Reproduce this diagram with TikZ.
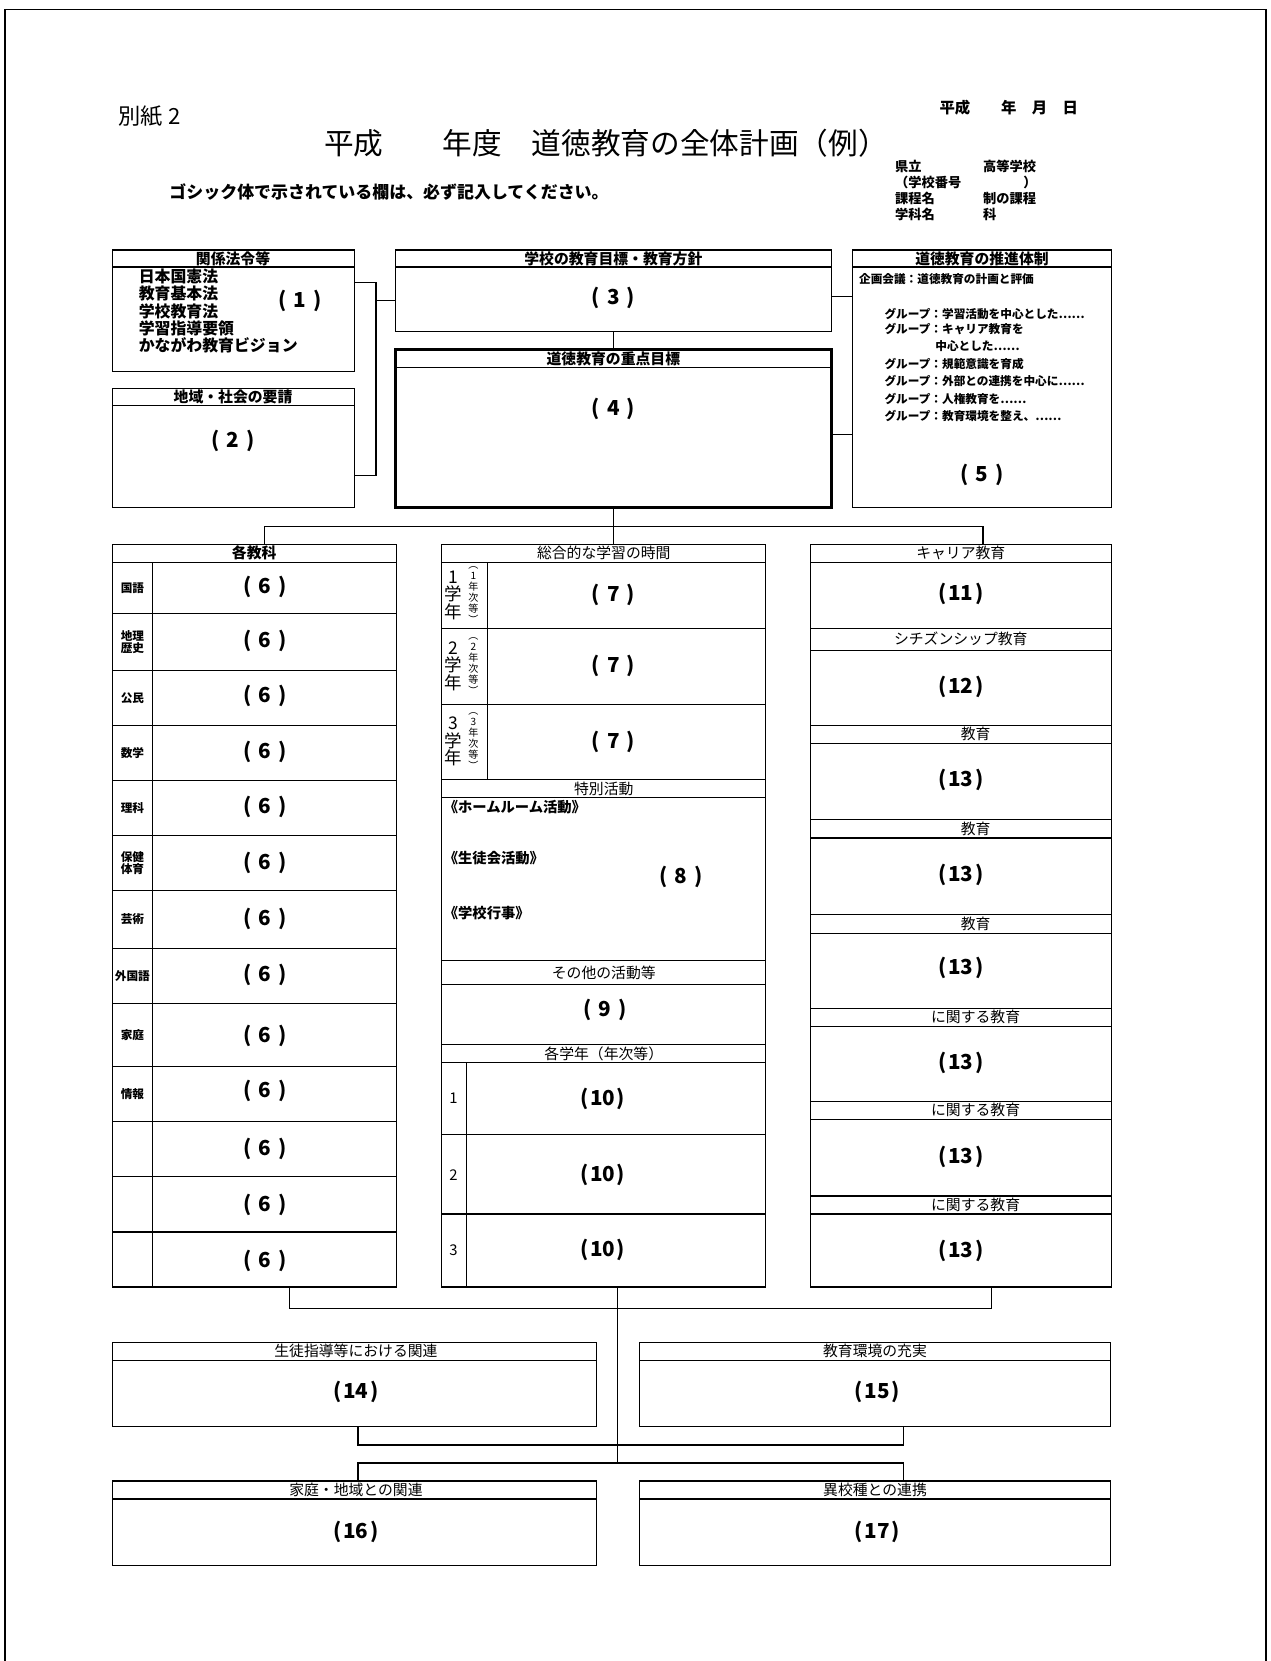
\documentclass[tikz,border=0pt]{standalone}
\usepackage{fontspec}
\setmainfont{Noto Sans CJK JP}
\newcommand\wnum[1]{(\hspace{0.35em}#1\hspace{0.35em})}
\newcommand\tnum[1]{(\hspace{0.08em}#1\hspace{0.08em})}
\begin{document}
\begin{tikzpicture}[x=1pt,y=-1pt,
  ln/.style={line width=1.1pt},
  box/.style={draw,line width=1.1pt,inner sep=0pt,outer sep=0pt,anchor=north west},
  txt/.style={inner sep=0pt,outer sep=0pt},
  hb/.style={txt,font=\fontsize{14}{15}\selectfont\bfseries},
  hr/.style={txt,font=\fontsize{14}{15}\selectfont},
  num/.style={txt,font=\fontsize{19.5}{20}\selectfont\bfseries},
  lab/.style={txt,align=center,font=\fontsize{11}{11.5}\selectfont\bfseries},
  grp/.style={txt,anchor=west,font=\fontsize{11}{12}\selectfont\bfseries},
  small/.style={txt,anchor=west,font=\fontsize{12.5}{13}\selectfont\bfseries},
]
\useasboundingbox (0,0) rectangle (1199,1568);
\draw[line width=1.6pt] (5,1580) -- (5,9) -- (1195,9) -- (1195,1580);

% ---- top texts
\node[txt,anchor=west,font=\fontsize{21}{22}\selectfont] (bessi) at (112,110) {別紙 2};
\node[txt,font=\fontsize{28}{29}\selectfont] (title) at (572,135) {平成　　年度　道徳教育の全体計画（例）};
\node[small,font=\fontsize{14.5}{15}\selectfont\bfseries] (date) at (887,102) {平成　　年　月　日};
\node[txt,anchor=west,font=\fontsize{16}{17}\selectfont\bfseries] (note) at (160,181) {ゴシック体で示されている欄は、必ず記入してください。};
\node[small] (sc1) at (845,157) {県立};
\node[small] (sc2) at (928,157) {高等学校};
\node[small] (sc3) at (845,172) {（学校番号};
\node[small] (sc4) at (966,172) {）};
\node[small] (sc5) at (845,187) {課程名};
\node[small] (sc6) at (928,187) {制の課程};
\node[small] (sc7) at (845,202) {学科名};
\node[small] (sc8) at (928,202) {科};

% ---- upper boxes
\node[box,minimum width=229pt,minimum height=115pt] (b1) at (106,236) {};
\node[box,minimum width=229pt,minimum height=112pt] (b2) at (106,367) {};
\node[box,minimum width=412pt,minimum height=77pt] (b3) at (373,236) {};
\node[box,line width=2.6pt,minimum width=412pt,minimum height=149pt] (b4) at (373,330) {};
\node[box,minimum width=244pt,minimum height=243pt] (b5) at (805,236) {};
\draw[ln] (106,252) -- (335,252);
\draw[ln] (106,383) -- (335,383);
\draw[ln] (373,252) -- (785,252);
\draw[ln] (373,347) -- (785,347);
\draw[ln] (805,252) -- (1049,252);

\node[hb] (h1) at (220,244) {関係法令等};
\foreach \s/\y [count=\i] in {日本国憲法/261,教育基本法/277,学校教育法/294,学習指導要領/310,かながわ教育ビジョン/326}
  \node[txt,anchor=west,font=\fontsize{15}{16}\selectfont\bfseries] (law\i) at (131,\y) {\s};
\node[num] (n1) at (283,284) {\wnum{1}};
\node[hb] (h2) at (220,375) {地域・社会の要請};
\node[num] (n2) at (220,416) {\wnum{2}};
\node[hb] (h3) at (579,244) {学校の教育目標・教育方針};
\node[num] (n3) at (579,281) {\wnum{3}};
\node[hb] (h4) at (579,339) {道徳教育の重点目標};
\node[num] (n4) at (579,386) {\wnum{4}};
\node[hb] (h5) at (927,244) {道徳教育の推進体制};
\node[grp] (g0) at (811,263) {企画会議：道徳教育の計画と評価};
\node[grp] (g1) at (835,296) {グループ：学習活動を中心とした……};
\node[grp] (g2) at (835,311) {グループ：キャリア教育を};
\node[grp] (g3) at (883,327) {中心とした……};
\node[grp] (g4) at (835,344) {グループ：規範意識を育成};
\node[grp] (g5) at (835,360) {グループ：外部との連携を中心に……};
\node[grp] (g6) at (835,377) {グループ：人権教育を……};
\node[grp] (g7) at (835,393) {グループ：教育環境を整え、……};
\node[num] (n5) at (927,448) {\wnum{5}};

% ---- upper connectors
\coordinate (j1) at (355,267);
\coordinate (j2) at (355,449);
\coordinate (j3) at (355,284);
\draw[ln] (b1.east |- j1) -- (j1) -- (j2) -- (b2.east |- j2);
\draw[ln] (j3) -- (b3.west |- j3);
\coordinate (j4) at (795,280);
\coordinate (j5) at (795,410);
\draw[ln] (b3.east |- j4) -- (b5.west |- j4);
\draw[ln] (b4.east |- j5) -- (b5.west |- j5);
\draw[ln] (b3.south) -- (b4.north);

% ---- columns
\node[box,minimum width=268pt,minimum height=701pt] (c1) at (106,514) {};
\node[box,minimum width=306pt,minimum height=701pt] (c2) at (417,514) {};
\node[box,minimum width=284pt,minimum height=701pt] (c3) at (765,514) {};

\coordinate (k1) at (250,497);
\coordinate (k2) at (579,497);
\coordinate (k3) at (928,497);
\draw[ln] (b4.south) -- (k2);
\draw[ln] (k1) -- (k3);
\draw[ln] (k1) -- (k1 |- c1.north);
\draw[ln] (k2) -- (k2 |- c2.north);
\draw[ln] (k3) -- (k3 |- c3.north);

% left column
\foreach \y in {531,579,633,685,737,789,841,895,947,1007,1059,1111,1163}
  \draw[ln] (106,\y) -- (374,\y);
\draw[ln] (144,531) -- (144,1215);
\node[hb] (hc1) at (240,522) {各教科};
\foreach \s/\y [count=\i] in {国語/555,地理\\歴史/606,公民/659,数学/711,理科/763,保健\\体育/815,芸術/868,外国語/921,家庭/977,情報/1033}
  \node[lab] (sub\i) at (125,\y) {\s};
\foreach \y [count=\i] in {554,605,657,710,762,815,867,920,978,1030,1085,1137,1190}
  \node[num] (six\i) at (250,\y) {\wnum{6}};

% middle column
\foreach \y in {531,593,665,736,753,907,929,986,1003,1071,1146}
  \draw[ln] (417,\y) -- (723,\y);
\draw[ln] (460,531) -- (460,736);
\draw[ln] (440,1003) -- (440,1215);
\node[hr] (hc2) at (570,522) {総合的な学習の時間};
\foreach \k/\y in {1/562,2/629,3/700}{
  \node[txt,align=center,font=\fontsize{16.5}{16.5}\selectfont] (yr\k) at (428,\y) {\k\\学\\年};
  \node[txt,align=center,font=\fontsize{9.5}{10.4}\selectfont] (yrs\k) at (447,\y) {︵\\\k\\年\\次\\等\\︶};
  \node[num] (sev\k) at (579,\y) {\wnum{7}};
}
\node[hr] (hsp) at (570,745) {特別活動};
\node[txt,anchor=west,font=\fontsize{13.5}{14}\selectfont\bfseries] (sp1) at (419,762) {《ホームルーム活動》};
\node[txt,anchor=west,font=\fontsize{13.5}{14}\selectfont\bfseries] (sp2) at (419,810) {《生徒会活動》};
\node[txt,anchor=west,font=\fontsize{13.5}{14}\selectfont\bfseries] (sp3) at (419,862) {《学校行事》};
\node[num] (n8) at (643,828) {\wnum{8}};
\node[hr] (hot) at (570,918) {その他の活動等};
\node[num] (n9) at (571,953) {\wnum{9}};
\node[hr] (hgr) at (570,995) {各学年（年次等）};
\foreach \k/\y in {1/1037,2/1109,3/1180}{
  \node[txt,font=\fontsize{14}{15}\selectfont] (gl\k) at (428,\y) {\k};
  \node[num] (ten\k) at (569,\y) {\tnum{10}};
}

% right column
\foreach \y in {531,593,614,685,702,774,791,863,881,952,969,1040,1057,1129,1146}
  \draw[ln] (765,\y) -- (1049,\y);
\node[hr] (hr1) at (907,522) {キャリア教育};
\node[num] (n11) at (907,561) {\tnum{11}};
\node[hr] (hr2) at (907,603) {シチズンシップ教育};
\node[num] (n12) at (907,648) {\tnum{12}};
\foreach \s/\hy/\ny [count=\i] in {教育/693/736,教育/782/826,教育/872/914,に関する教育/960/1003,に関する教育/1048/1092,に関する教育/1137/1181}{
  \node[hr] (hr3\i) at (921,\hy) {\s};
  \node[num] (th\i) at (907,\ny) {\tnum{13}};
}

% ---- bottom connectors
\coordinate (m1) at (273,1235);
\coordinate (m2) at (583,1235);
\coordinate (m3) at (936,1235);
\coordinate (m4) at (583,1381);
\draw[ln] (m1 |- c1.south) -- (m1) -- (m3) -- (m3 |- c3.south);
\draw[ln] (m2 |- c2.south) -- (m4);

% ---- bottom boxes
\node[box,minimum width=457pt,minimum height=80pt] (b14) at (106,1267) {};
\node[box,minimum width=444pt,minimum height=80pt] (b15) at (604,1267) {};
\node[box,minimum width=457pt,minimum height=80pt] (b16) at (106,1398) {};
\node[box,minimum width=444pt,minimum height=80pt] (b17) at (604,1398) {};
\draw[ln] (106,1284) -- (563,1284);
\draw[ln] (604,1284) -- (1048,1284);
\draw[ln] (106,1415) -- (563,1415);
\draw[ln] (604,1415) -- (1048,1415);
\node[hr] (h14) at (336,1275) {生徒指導等における関連};
\node[num] (n14) at (336,1314) {\tnum{14}};
\node[hr] (h15) at (826,1275) {教育環境の充実};
\node[num] (n15) at (828,1314) {\tnum{15}};
\node[hr] (h16) at (336,1406) {家庭・地域との関連};
\node[num] (n16) at (336,1446) {\tnum{16}};
\node[hr] (h17) at (826,1406) {異校種との連携};
\node[num] (n17) at (828,1446) {\tnum{17}};

\coordinate (q1) at (338,1364);
\coordinate (q2) at (853,1364);
\coordinate (p1) at (338,1381);
\coordinate (p2) at (853,1381);
\draw[ln] (q1 |- b14.south) -- (q1) -- (q2) -- (q2 |- b15.south);
\draw[ln] (p1 |- b16.north) -- (p1) -- (p2) -- (p2 |- b17.north);
\end{tikzpicture}
\end{document}
